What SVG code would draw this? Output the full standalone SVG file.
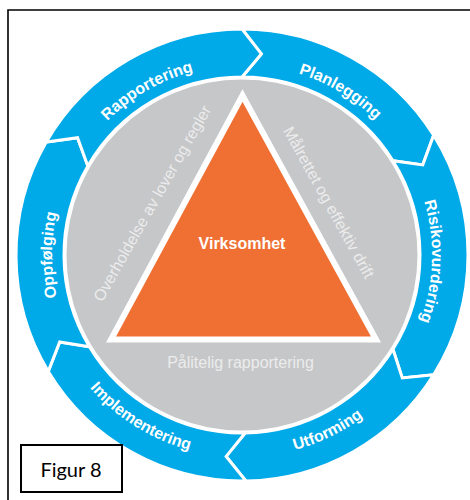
<svg xmlns="http://www.w3.org/2000/svg" width="470" height="500" viewBox="0 0 470 500">
<style>
.seg{fill:#00a9e8;stroke:#fff;stroke-width:3;stroke-linejoin:miter}
.lbl{font-family:"Liberation Sans",Arial,sans-serif;font-weight:bold;font-size:16px;fill:#fff}
.inner{font-family:"Liberation Sans",Arial,sans-serif;font-size:16px;fill:#ececec}
</style>
<defs>
<path id="pPlan" d="M149.89,88.82 A190,190 0 0 1 431.97,258.32"/>
<path id="pRisk" d="M342.68,93.87 A190,190 0 0 1 331.2,422.76"/>
<path id="pOpp" d="M147,419.55 A190,190 0 0 1 147,90.45"/>
<path id="pRapp" d="M52,255 A190,190 0 0 1 337,90.45"/>
<path id="pUtf" d="M129.04,422.47 A202,202 0 0 0 443.51,269.09"/>
<path id="pImp" d="M40.12,247.95 A202,202 0 0 0 336.83,433.36"/>
</defs>
<rect width="470" height="500" fill="#fff"/>
<path d="M8,510 V10 H480" fill="none" stroke="#000" stroke-width="1.6"/>
<g id="core">
<circle cx="242" cy="255" r="175.5" fill="#c6c7c9"/>
</g>
<g id="seg-planlegging">
<path class="seg" d="M242,29 A226,226 0 0 1 433.66,135.24 L422.78,164.87 L392.95,160.67 A178,178 0 0 0 242,77 L261.36,53.93 Z"/>
<text class="lbl"><textPath href="#pPlan" startOffset="50%" text-anchor="middle">Planlegging</textPath></text>
</g>
<g id="seg-risikovurdering">
<path class="seg" d="M433.66,135.24 A226,226 0 0 1 433.66,374.76 L402.26,377.97 L392.95,349.33 A178,178 0 0 0 392.95,160.67 L422.78,164.87 Z"/>
<text class="lbl"><textPath href="#pRisk" startOffset="50%" text-anchor="middle">Risikovurdering</textPath></text>
</g>
<g id="seg-utforming">
<path class="seg" d="M433.66,374.76 A226,226 0 0 1 245.94,480.97 L226.15,456.38 L245.11,432.97 A178,178 0 0 0 392.95,349.33 L402.26,377.97 Z"/>
<text class="lbl"><textPath href="#pUtf" startOffset="50%" text-anchor="middle">Utforming</textPath></text>
</g>
<g id="seg-implementering">
<path class="seg" d="M245.94,480.97 A226,226 0 0 1 48.28,371.4 L59.68,341.96 L89.42,346.68 A178,178 0 0 0 245.11,432.97 L226.15,456.38 Z"/>
<text class="lbl"><textPath href="#pImp" startOffset="50%" text-anchor="middle">Implementering</textPath></text>
</g>
<g id="seg-oppfolging">
<path class="seg" d="M48.28,371.4 A226,226 0 0 1 46.28,142 L77.55,137.7 L87.85,166 A178,178 0 0 0 89.42,346.68 L59.68,341.96 Z"/>
<text class="lbl"><textPath href="#pOpp" startOffset="50%" text-anchor="middle">Oppfølging</textPath></text>
</g>
<g id="seg-rapportering">
<path class="seg" d="M46.28,142 A226,226 0 0 1 242,29 L261.36,53.93 L242,77 A178,178 0 0 0 87.85,166 L77.55,137.7 Z"/>
<text class="lbl"><textPath href="#pRapp" startOffset="50%" text-anchor="middle">Rapportering</textPath></text>
</g>
<g id="triangle">
<polygon points="242.5,95.5 111,339.5 376,339.5" fill="#f07033" stroke="#fff" stroke-width="6" stroke-linejoin="miter"/>
<text x="242" y="249" text-anchor="middle" font-family="Liberation Sans, Arial, sans-serif" font-weight="bold" font-size="16" fill="#fff">Virksomhet</text>
</g>
<g id="labels">
<text class="inner" text-anchor="middle" transform="translate(157,206) rotate(-60.5)">Overholdelse av lover og regler</text>
<text class="inner" text-anchor="middle" transform="translate(324,205) rotate(61)">Målrettet og effektiv drift</text>
<text class="inner" x="240.5" y="368" text-anchor="middle">Pålitelig rapportering</text>
</g>
<g id="figur">
<rect x="21" y="445" width="101" height="47" fill="#fff" stroke="#000" stroke-width="2"/>
<text x="71" y="477" text-anchor="middle" font-family="Lato, Carlito, sans-serif" font-size="20" fill="#000">Figur 8</text>
</g>
</svg>
